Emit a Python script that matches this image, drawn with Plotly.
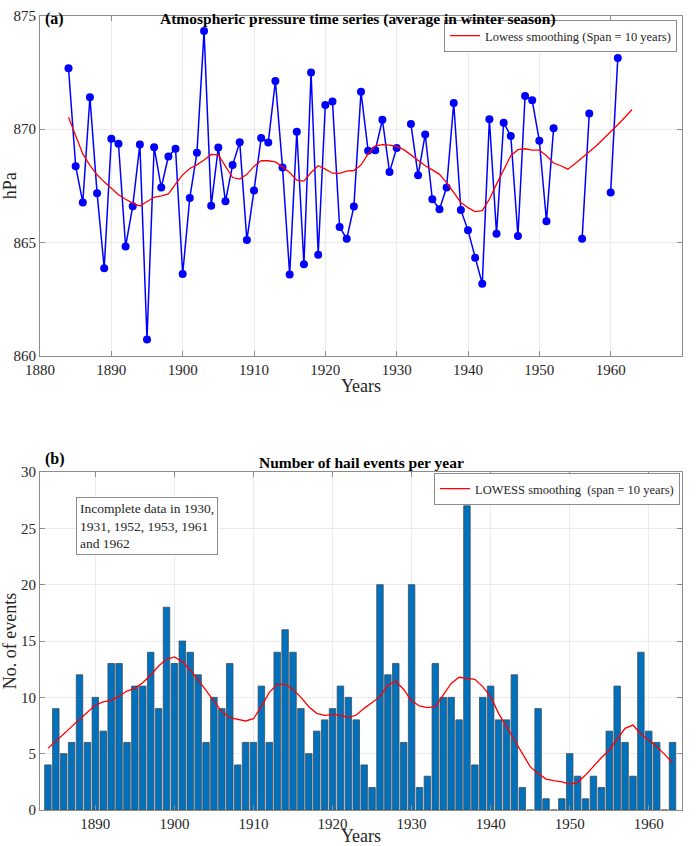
import plotly.graph_objects as go

## Winter pressure (hPa), None = missing year ##
p_years = list(range(1884, 1962))
p_values = [872.68, 868.36, 866.76, 871.40, 867.17, 863.86, 869.57, 869.35, 864.82, 866.59,
            869.32, 860.72, 869.20, 867.42, 868.79, 869.13, 863.60, 866.96, 868.95, 874.32,
            866.61, 869.19, 866.81, 868.41, 869.42, 865.10, 867.29, 869.60, 869.41, 872.12,
            868.30, 863.58, 869.88, 864.03, 872.49, 864.45, 871.06, 871.22, 865.68, 865.16,
            866.58, 871.64, 869.04, 869.06, 870.41, 868.10, 869.16, None, 870.22, 867.96,
            869.76, 866.90, 866.46, 867.42, 871.15, 866.43, 865.53, 864.32, 863.17, 870.43,
            865.38, 870.28, 869.69, 865.28, 871.46, 871.27, 869.48, 865.93, 870.04, None,
            None, None, 865.16, 870.69, None, None, 867.20, 873.13]

p_lowess_years = list(range(1884, 1964))
p_lowess = [870.52, 869.70, 868.90, 868.40, 867.98, 867.67, 867.37, 867.10, 866.90, 866.73,
            866.60, 866.78, 866.99, 867.05, 867.14, 867.57, 867.98, 868.26, 868.42, 868.63,
            868.88, 868.86, 868.38, 867.86, 867.79, 868.00, 868.35, 868.61, 868.60, 868.55,
            868.33, 868.08, 867.74, 867.70, 868.08, 868.38, 868.23, 868.05, 868.04, 868.14,
            868.17, 868.41, 868.90, 869.26, 869.31, 869.29, 869.23, 869.09, 868.86, 868.63,
            868.38, 868.20, 868.00, 867.64, 867.20, 866.76, 866.53, 866.36, 866.40, 866.90,
            867.57, 868.23, 868.82, 869.09, 869.13, 869.07, 869.07, 868.82, 868.50, 868.38,
            868.23, 868.47, 868.75, 869.00, 869.26, 869.56, 869.85, 870.19, 870.52, 870.86]

## Hail events per year ##
h_years = list(range(1884, 1964))
h_counts = [4, 9, 5, 6, 12, 6, 10, 7, 13, 13, 6, 11, 11, 14, 9, 18, 13, 15, 14, 12,
            6, 10, 9, 13, 4, 6, 6, 11, 6, 14, 16, 14, 9, 5, 7, 8, 9, 11, 10, 8,
            4, 2, 20, 12, 13, 6, 20, 2, 3, 13, 10, 10, 8, 27, 4, 10, 11, 8, 8, 12,
            2, 0, 9, 1, 0, 1, 5, 3, 1, 3, 2, 7, 11, 6, 3, 14, 7, 6, 0, 6]
h_lowess = [5.47, 6.07, 6.75, 7.40, 8.05, 8.73, 9.32, 9.60, 9.76, 10.10,
            10.56, 10.80, 11.30, 11.98, 12.78, 13.37, 13.58, 13.17, 12.43, 11.54,
            10.60, 9.76, 8.73, 8.20, 8.05, 7.90, 8.10, 9.17, 10.44, 11.15,
            11.18, 10.70, 10.00, 9.17, 8.58, 8.40, 8.49, 8.40, 8.20, 8.43,
            9.02, 9.53, 10.06, 11.09, 11.42, 10.70, 9.70, 9.23, 9.08, 9.17,
            10.20, 11.24, 11.78, 11.72, 11.60, 10.95, 10.06, 8.58, 7.34, 6.21,
            5.03, 3.85, 3.25, 2.75, 2.60, 2.50, 2.30, 2.46, 3.10, 3.90,
            4.64, 5.33, 6.27, 7.25, 7.54, 6.75, 6.21, 5.62, 4.94, 4.20]

serif = "Liberation Serif"
W, H = 696, 846

fig = go.Figure()

# (a) pressure
fig.add_trace(go.Scatter(x=p_years, y=p_values, mode="lines+markers",
                         line=dict(color="#0000ff", width=1.5),
                         marker=dict(color="#0000ff", size=8),
                         connectgaps=False, showlegend=False,
                         xaxis="x", yaxis="y"))
fig.add_trace(go.Scatter(x=p_lowess_years, y=p_lowess, mode="lines",
                         line=dict(color="#ff0000", width=1.3),
                         name="Lowess smoothing (Span = 10 years)",
                         legend="legend", xaxis="x", yaxis="y"))

# (b) hail
fig.add_trace(go.Bar(x=h_years, y=h_counts, width=0.82,
                     marker=dict(color="#0072bd", line=dict(color="#3d4d5c", width=0.8)),
                     showlegend=False, xaxis="x2", yaxis="y2"))
fig.add_trace(go.Scatter(x=h_years, y=h_lowess, mode="lines",
                         line=dict(color="#ff0000", width=1.3),
                         name="LOWESS smoothing  (span = 10 years)",
                         legend="legend2", xaxis="x2", yaxis="y2"))

axis_common = dict(showline=True, linecolor="#8c8c8c", linewidth=1, mirror="ticks",
                   ticks="inside", ticklen=5, tickcolor="#8c8c8c",
                   showgrid=True, gridcolor="#ebebeb", zeroline=False, automargin=False,
                   tickfont=dict(family=serif, size=15, color="#262626"))

fig.update_layout(
    width=W, height=H,
    margin=dict(l=0, r=0, t=0, b=0),
    plot_bgcolor="white", paper_bgcolor="white",
    font=dict(family=serif, size=15, color="#262626"),
    xaxis=dict(domain=[40 / W, 682 / W], range=[1880, 1970], dtick=10,
               title=dict(text="Years", standoff=2), anchor="y", **axis_common),
    yaxis=dict(domain=[1 - 355.7 / H, 1 - 15.7 / H], range=[860, 875], dtick=5,
               title=dict(text="hPa", standoff=4), anchor="x", **axis_common),
    xaxis2=dict(domain=[40 / W, 682 / W], range=[1883, 1964.2],
                tickvals=[1890, 1900, 1910, 1920, 1930, 1940, 1950, 1960],
                title=dict(text="Years", standoff=2), anchor="y2", **axis_common),
    yaxis2=dict(domain=[1 - 810 / H, 1 - 472 / H], range=[0, 30], dtick=5,
                title=dict(text="No. of events", standoff=4), anchor="x2", **axis_common),
    legend=dict(x=677 / W, y=1 - 20 / H, xanchor="right", yanchor="top",
                bgcolor="white", bordercolor="#8c8c8c", borderwidth=1,
                font=dict(family=serif, size=12.5, color="#262626"),
                itemwidth=30, tracegroupgap=0),
    legend2=dict(x=680 / W, y=1 - 473 / H, xanchor="right", yanchor="top",
                 bgcolor="white", bordercolor="#8c8c8c", borderwidth=1,
                 font=dict(family=serif, size=12.5, color="#262626"),
                 itemwidth=30, tracegroupgap=0),
    bargap=0.2,
)

fig.add_annotation(text="<b>Atmospheric pressure time series (average in winter season)</b>",
                   x=358 / W, y=1 - 8 / H, xref="paper", yref="paper",
                   showarrow=False, font=dict(family=serif, size=15.5, color="black"))
fig.add_annotation(text="<b>Number of hail events per year</b>",
                   x=361 / W, y=1 - 462 / H, xref="paper", yref="paper",
                   showarrow=False, font=dict(family=serif, size=15.5, color="black"))
fig.add_annotation(text="<b>(a)</b>", x=43 / W, y=1 - 8 / H, xref="paper", yref="paper",
                   xanchor="left", showarrow=False, font=dict(family=serif, size=16, color="black"))
fig.add_annotation(text="<b>(b)</b>", x=43 / W, y=1 - 459 / H, xref="paper", yref="paper",
                   xanchor="left", showarrow=False, font=dict(family=serif, size=16, color="black"))
fig.add_annotation(text="Incomplete data in 1930,<br>1931, 1952, 1953, 1961<br>and 1962",
                   x=76 / W, y=1 - 497 / H, xref="paper", yref="paper",
                   xanchor="left", yanchor="top", align="left", showarrow=False,
                   bgcolor="white", bordercolor="#8c8c8c", borderwidth=1, borderpad=3,
                   font=dict(family=serif, size=13.5, color="#262626"))

# page body has a default 8px margin; drop it so the figure sits at the corner
fig.write_html("out.html", config={"displayModeBar": False},
               post_script="document.body.style.margin='0';")
